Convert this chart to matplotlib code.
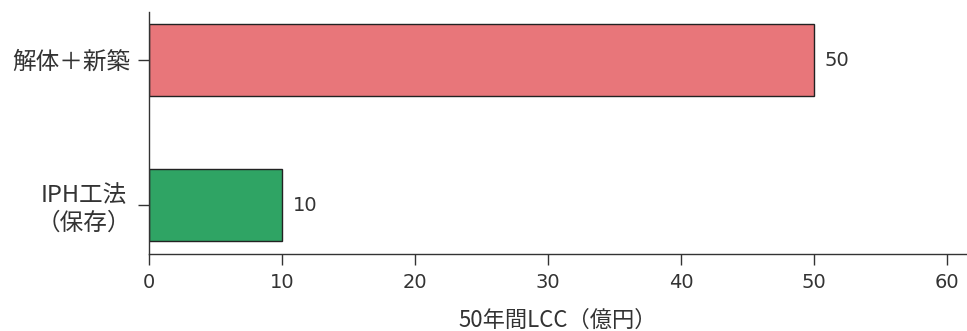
import matplotlib
matplotlib.use("Agg")
import matplotlib.pyplot as plt

plt.rcParams['font.family'] = ['Noto Sans CJK JP', 'DejaVu Sans']

# LCC over 50 years, in 100 million yen
categories = ['IPH工法\n（保存）', '解体＋新築']
values = [10, 50]
colors = ['#2fa464', '#e8767a']
xticks = [0, 10, 20, 30, 40, 50, 60]

fig = plt.figure(figsize=(9.67, 3.31), dpi=100)
ax = fig.add_axes([0.154, 0.2326, 0.846, 0.7311])

pos = list(range(len(categories)))
ax.barh(pos, values, height=0.5, color=colors, edgecolor='#222222', linewidth=1.0)
for p, v in zip(pos, values):
    ax.text(v + 0.8, p, f'{v}', va='center', ha='left', fontsize=14,
            family='DejaVu Sans', color='#333333')

ax.set_xlim(0, 61.5)
ax.set_ylim(-0.338, 1.331)
ax.set_xticks(xticks)
ax.set_xticklabels([str(t) for t in xticks], family='DejaVu Sans', fontsize=14)
ax.set_yticks(pos)
ax.set_yticklabels(categories, fontsize=17, linespacing=1.25, multialignment='center')
ax.tick_params(axis='both', colors='#333333', length=8, width=1.0, direction='out')
ax.tick_params(axis='x', pad=6)
ax.tick_params(axis='y', pad=5)
for s in ['top', 'right']:
    ax.spines[s].set_visible(False)
for s in ['left', 'bottom']:
    ax.spines[s].set_color('#333333')
    ax.spines[s].set_linewidth(1.0)
ax.set_xlabel('50年間LCC（億円）', fontsize=16, color='#333333', labelpad=12)

fig.savefig('out.png', dpi=100)
